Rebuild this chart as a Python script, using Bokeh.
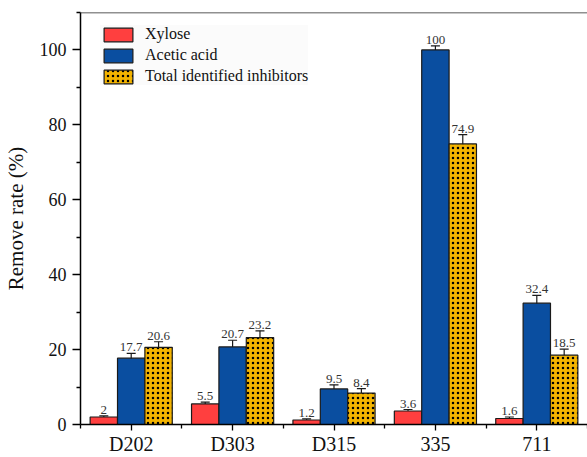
from bokeh.plotting import figure
from bokeh.models import (ColumnDataSource, FixedTicker, Whisker, TeeHead,
                          Legend, LegendItem, Span, Range1d)
from bokeh.core.properties import value
from bokeh.embed import file_html
from bokeh.resources import INLINE

# Resin types and removal rates (%)
resins = ["D202", "D303", "D315", "335", "711"]
xylose = [2.0, 5.5, 1.2, 3.6, 1.6]
xylose_err = [0.3, 0.5, 0.3, 0.4, 0.4]
acetic = [17.7, 20.7, 9.5, 100.0, 32.4]
acetic_err = [1.3, 1.8, 1.1, 1.1, 2.1]
total = [20.6, 23.2, 8.4, 74.9, 18.5]
total_err = [1.5, 1.8, 1.2, 2.5, 1.6]
y_ticks = [0, 20, 40, 60, 80, 100]

FONT = "Liberation Serif"
INK = "#1a1a1a"
BAR_W = 0.27
Y_MAX = 110

centers = [i + 1 for i in range(len(resins))]

p = figure(width=587, height=457, output_backend="svg", toolbar_location=None,
           x_range=Range1d(0.5, len(resins) + 0.5), y_range=Range1d(0, Y_MAX),
           min_border_left=76, min_border_right=0, min_border_top=12,
           min_border_bottom=30)
p.outline_line_color = None
p.xgrid.visible = False
p.ygrid.visible = False
p.background_fill_color = "white"
p.border_fill_color = "white"

series = [
    ("Xylose", xylose, xylose_err, -BAR_W, "#FF3F3F", None),
    ("Acetic acid", acetic, acetic_err, 0.0, "#0A4EA0", None),
    ("Total identified inhibitors", total, total_err, BAR_W, "#F4B400", "dot"),
]

items = []
for name, vals, errs, off, color, hatch in series:
    src = ColumnDataSource(dict(
        x=[c + off for c in centers],
        top=vals,
        upper=[v + e for v, e in zip(vals, errs)],
        lower=[v - e for v, e in zip(vals, errs)],
        label=[("%g" % v) for v in vals],
    ))
    kw = {}
    if hatch:
        kw = dict(hatch_pattern=hatch, hatch_color="black", hatch_scale=5,
                  hatch_weight=0.6)
    r = p.vbar(x="x", top="top", bottom=0, width=BAR_W, source=src,
               fill_color=color, line_color=INK, line_width=1.2, **kw)
    items.append(LegendItem(label=name, renderers=[r]))
    head = dict(size=9, line_color=INK, line_width=1.2)
    p.add_layout(Whisker(source=src, base="x", upper="upper", lower="lower",
                         line_color=INK, line_width=1.2,
                         upper_head=TeeHead(**head), lower_head=TeeHead(**head)))
    p.text(x="x", y="upper", text="label", source=src, text_align="center",
           text_baseline="bottom", y_offset=-2, text_font=value(FONT),
           text_font_size="13px", text_color="#333333")

legend = Legend(items=items, location=(20, 339), glyph_width=36, glyph_height=17,
                label_height=17, spacing=3, padding=8, margin=0,
                label_standoff=9, label_text_font=FONT, label_text_font_size="16px",
                label_text_color="#111111", background_fill_color="#fbfbfb",
                background_fill_alpha=1.0, border_line_color=None)
p.add_layout(legend)

# top frame line
p.add_layout(Span(location=Y_MAX, dimension="width", line_color="#222222",
                  line_width=1.5))

# x axis: resin names under the groups, minor ticks at group boundaries
xa = p.xaxis[0]
xa.ticker = FixedTicker(ticks=centers,
                        minor_ticks=[c - 0.5 for c in centers] + [centers[-1] + 0.5])
xa.major_label_overrides = {c: n for c, n in zip(centers, resins)}
xa.major_label_text_font = FONT
xa.major_label_text_font_size = "20px"
xa.major_label_text_color = "#111111"
xa.major_tick_in = 0
xa.major_tick_out = 6
xa.minor_tick_in = 0
xa.minor_tick_out = 4
xa.axis_line_width = 1.5
xa.major_tick_line_width = 1.3
xa.minor_tick_line_width = 1.3
xa.major_label_standoff = 2

ya = p.yaxis[0]
ya.ticker = FixedTicker(ticks=y_ticks, minor_ticks=[t + 10 for t in y_ticks])
ya.axis_label = "Remove rate (%)"
ya.axis_label_text_font = FONT
ya.axis_label_text_font_style = "normal"
ya.axis_label_text_font_size = "21px"
ya.axis_label_text_color = "#111111"
ya.axis_label_standoff = 9
ya.major_label_text_font = FONT
ya.major_label_text_font_size = "18px"
ya.major_label_text_color = "#111111"
ya.major_label_standoff = 6
ya.major_tick_in = 0
ya.major_tick_out = 8
ya.minor_tick_in = 0
ya.minor_tick_out = 4
ya.axis_line_width = 1.5
ya.major_tick_line_width = 1.3
ya.minor_tick_line_width = 1.3

open("out.html", "w").write(file_html(p, INLINE))
